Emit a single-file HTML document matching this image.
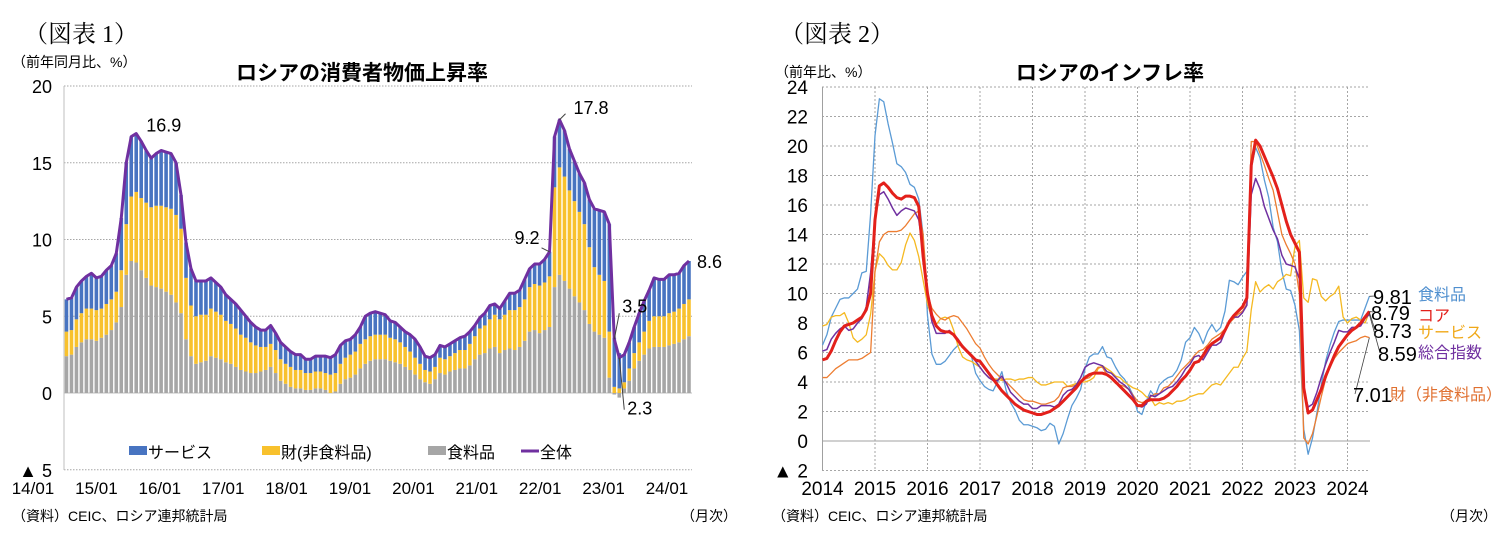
<!DOCTYPE html>
<html><head><meta charset="utf-8"><style>
html,body{margin:0;padding:0;background:#fff;}
svg{display:block;font-family:"Liberation Sans","Noto Sans CJK JP",sans-serif;}
</style></head><body>
<svg id="s" width="1505" height="560" viewBox="0 0 1505 560" xmlns="http://www.w3.org/2000/svg">
<g id="c1">
<text x="24" y="42" font-size="24" font-family="Liberation Serif,'Noto Serif CJK SC',serif">（図表 1）</text>
<text x="12" y="67" font-size="14">（前年同月比、%）</text>
<text x="362" y="80" font-size="21" font-weight="bold" text-anchor="middle">ロシアの消費者物価上昇率</text>
<text x="12" y="521" font-size="14">（資料）CEIC、ロシア連邦統計局</text>
<text x="737" y="521" font-size="14" text-anchor="end">（月次）</text>
</g>
<g id="c2">
<text x="780" y="42" font-size="24" font-family="Liberation Serif,'Noto Serif CJK SC',serif">（図表 2）</text>
<text x="775" y="77" font-size="14">（前年比、%）</text>
<text x="1110" y="80" font-size="21" font-weight="bold" text-anchor="middle">ロシアのインフレ率</text>
<text x="772" y="521" font-size="14">（資料）CEIC、ロシア連邦統計局</text>
<text x="1497" y="521" font-size="14" text-anchor="end">（月次）</text>
</g>
</svg>
<script>
// ---- Chart 1 data (monthly 2014/01-2024/06) ----
const total=[6.1,6.2,6.9,7.3,7.6,7.8,7.5,7.6,8.0,8.3,9.1,11.4,
15.0,16.7,16.9,16.4,15.8,15.3,15.6,15.8,15.7,15.6,15.0,12.9,
9.8,8.1,7.3,7.3,7.3,7.5,7.2,6.9,6.4,6.1,5.8,5.4,
5.0,4.6,4.3,4.1,4.1,4.4,3.9,3.3,3.0,2.7,2.5,2.5,
2.2,2.2,2.4,2.4,2.4,2.3,2.5,3.1,3.4,3.5,3.8,4.3,
5.0,5.2,5.3,5.2,5.1,4.7,4.6,4.3,4.0,3.8,3.5,3.0,
2.4,2.3,2.5,3.1,3.0,3.2,3.4,3.6,3.7,4.0,4.4,4.9,
5.2,5.7,5.8,5.5,6.0,6.5,6.5,6.7,7.4,8.1,8.4,8.4,
8.7,9.2,16.7,17.8,17.1,15.9,15.1,14.3,13.7,12.6,12.0,11.9,
11.8,11.0,3.5,2.3,2.5,3.3,4.3,5.2,6.0,6.7,7.5,7.4,
7.4,7.7,7.7,7.8,8.3,8.6];
const foodC=[2.4,2.5,3.0,3.3,3.5,3.5,3.4,3.6,3.8,4.1,4.6,5.6,
7.7,8.6,8.5,8.0,7.5,7.0,6.9,6.8,6.6,6.4,5.9,5.2,
3.5,2.4,1.9,2.0,2.1,2.4,2.3,2.2,2.0,1.9,1.7,1.5,
1.4,1.3,1.3,1.4,1.5,1.7,1.3,0.8,0.6,0.4,0.3,0.3,
0.2,0.2,0.3,0.3,0.2,0.0,0.1,0.6,0.9,1.0,1.2,1.6,
1.9,2.1,2.2,2.2,2.2,2.1,2.0,1.9,1.7,1.5,1.2,0.9,
0.7,0.6,0.9,1.3,1.2,1.4,1.5,1.6,1.6,1.8,2.2,2.5,
2.6,2.9,3.0,2.6,2.8,2.9,2.8,3.0,3.4,4.0,4.1,3.9,
4.1,4.3,6.9,7.7,7.3,6.8,6.3,5.9,5.4,4.5,4.0,3.8,
3.6,1.0,-0.1,-0.3,0.3,0.8,1.6,2.1,2.5,2.9,3.0,3.0,
3.0,3.1,3.2,3.3,3.5,3.7];
const goodsC=[1.6,1.6,1.8,1.9,2.0,2.0,2.0,1.9,2.0,2.0,2.0,2.4,
3.3,4.2,4.6,4.7,4.9,5.1,5.3,5.4,5.5,5.6,5.7,5.5,
4.0,3.3,3.1,3.1,3.0,3.1,3.0,2.9,2.7,2.6,2.5,2.3,
2.2,2.0,1.8,1.6,1.5,1.5,1.5,1.4,1.3,1.3,1.2,1.2,
1.1,1.1,1.1,1.1,1.1,1.2,1.2,1.3,1.4,1.5,1.5,1.6,
1.6,1.6,1.6,1.6,1.6,1.5,1.5,1.4,1.3,1.2,1.1,1.0,
0.8,0.8,0.8,1.0,1.0,1.0,1.1,1.2,1.2,1.4,1.5,1.7,
1.8,1.9,2.1,2.2,2.3,2.5,2.6,2.6,2.7,2.9,3.0,3.1,
3.1,3.3,6.5,7.0,6.8,6.4,6.2,5.9,5.6,5.0,4.2,3.9,
3.7,3.0,0.4,0.3,0.4,0.8,1.0,1.2,1.5,1.8,2.0,2.0,
2.0,2.1,2.1,2.2,2.3,2.4];
const c1Ticks=[20,15,10,5,0,-5];
const c1TickLabels=["20","15","10","5","0","▲ 5"];
const c1XLabels=["14/01","15/01","16/01","17/01","18/01","19/01","20/01","21/01","22/01","23/01","24/01"];

// ---- Chart 2 data (monthly 2014/01-2024/06) ----
const headline=total.slice(0,125).concat([8.59]);
const core=[5.5,5.6,6.1,6.8,7.4,7.8,7.9,8.0,8.2,8.4,8.9,10.0,
15.0,17.3,17.5,17.2,16.8,16.5,16.4,16.6,16.6,16.5,15.9,12.5,
10.0,8.5,7.8,7.5,7.4,7.4,7.2,6.8,6.4,6.1,5.8,5.5,
5.4,5.0,4.6,4.2,3.8,3.4,3.1,2.8,2.5,2.3,2.1,2.0,
1.9,1.8,1.8,1.9,2.0,2.2,2.4,2.7,3.0,3.3,3.6,4.0,
4.3,4.5,4.6,4.6,4.6,4.5,4.3,4.0,3.7,3.4,3.1,2.8,
2.4,2.4,2.7,2.8,2.8,2.8,2.9,3.1,3.4,3.7,4.1,4.4,
4.8,5.3,5.4,5.8,6.3,6.6,6.8,7.0,7.5,8.1,8.5,8.8,
9.1,9.7,18.7,20.4,20.0,19.3,18.6,17.9,17.1,16.0,14.9,14.0,
13.4,12.8,3.6,1.9,2.1,2.8,3.5,4.4,5.1,5.8,6.4,6.8,
7.2,7.5,7.7,8.0,8.4,8.79];
const food=[6.5,7.2,8.4,9.0,9.6,9.7,9.7,10.0,10.3,11.4,11.5,15.4,
20.7,23.2,23.0,21.5,20.2,18.8,18.6,18.2,17.4,17.2,16.4,14.0,
8.5,5.9,5.2,5.2,5.4,5.8,6.2,6.5,6.5,6.1,5.8,4.6,
4.1,3.7,3.5,3.4,4.0,4.7,3.4,2.6,2.1,1.4,1.1,1.1,
1.0,0.9,0.7,0.8,1.2,1.0,-0.2,0.5,1.5,2.4,2.9,3.5,
4.9,5.7,5.9,5.9,6.4,5.7,5.6,5.0,4.5,4.2,3.7,3.1,
2.0,1.8,2.7,3.4,3.0,3.8,4.1,4.3,4.4,4.8,5.5,6.7,
7.0,7.7,7.3,6.6,7.4,7.9,7.4,7.7,8.8,10.9,10.8,10.6,
11.1,11.5,18.5,19.9,19.2,17.7,16.5,14.5,13.5,11.5,10.3,10.2,
9.2,7.5,0.8,-0.9,0.2,1.9,3.8,5.4,6.5,7.4,8.1,8.2,
8.2,8.2,8.2,8.2,9.0,9.81];
const services=[7.8,7.9,8.4,8.5,8.5,8.7,8.0,7.0,6.7,6.9,7.2,8.6,
11.5,12.7,12.4,11.9,11.6,11.6,12.1,13.3,14.1,13.6,12.5,10.9,
9.3,8.3,7.9,8.3,8.4,8.3,7.5,6.4,5.7,5.5,5.4,5.2,
5.0,4.6,4.3,4.2,4.2,4.1,4.2,4.2,4.1,4.2,4.2,4.3,
4.3,4.0,3.8,3.8,3.9,4.0,4.0,4.0,3.7,3.8,3.9,4.0,
4.0,4.1,4.3,4.9,5.1,4.9,4.7,4.4,4.3,4.0,3.8,3.6,
3.5,3.3,3.0,2.9,2.4,2.6,2.5,2.6,2.5,2.7,2.7,2.8,
3.0,3.1,3.2,3.2,3.5,3.8,3.9,3.8,4.2,4.6,5.0,5.0,
5.6,6.1,8.9,10.8,10.1,10.4,10.6,10.3,10.8,11.0,11.3,11.2,
13.2,13.6,9.7,9.4,11.0,10.9,9.8,9.5,9.8,10.0,10.5,8.4,
8.0,8.3,8.4,8.2,8.0,8.73];
const goods=[4.3,4.3,4.6,4.9,5.1,5.3,5.5,5.5,5.5,5.6,5.8,6.0,
11.5,13.5,14.0,14.2,14.2,14.2,14.3,14.6,15.0,15.4,15.6,14.0,
10.0,9.0,8.6,8.3,8.2,8.4,8.5,8.4,8.0,7.6,7.1,6.6,
6.3,5.7,5.2,4.8,4.5,4.2,4.0,3.7,3.4,3.1,2.8,2.7,
2.7,2.6,2.5,2.5,2.6,2.7,3.0,3.6,3.7,3.7,3.8,4.0,
4.2,4.3,4.6,5.0,5.0,4.5,4.2,3.9,3.8,3.7,3.5,3.1,
2.7,2.6,2.7,3.0,3.2,3.2,3.6,3.7,4.0,4.4,4.8,5.1,
5.4,5.8,6.1,6.2,6.5,6.9,7.1,7.3,7.6,8.0,8.3,8.6,
8.8,9.3,20.3,20.3,19.5,18.7,17.8,17.0,15.5,14.0,13.3,12.7,
12.0,10.0,0.2,-0.2,0.5,1.7,3.0,4.2,5.0,5.6,6.0,6.3,
6.6,6.7,6.8,7.0,7.1,7.01];
const c2Ticks=[24,22,20,18,16,14,12,10,8,6,4,2,0,-2];
const c2TickLabels=["24","22","20","18","16","14","12","10","8","6","4","2","0","▲ 2"];
const c2Years=["2014","2015","2016","2017","2018","2019","2020","2021","2022","2023","2024"];

const NS="http://www.w3.org/2000/svg";
function mk(parent,tag,attrs){const e=document.createElementNS(NS,tag);for(const k in attrs)e.setAttribute(k,attrs[k]);parent.appendChild(e);return e;}
function txt(parent,x,y,s,size,anchor,fill){const t=mk(parent,'text',{x:x,y:y,'font-size':size,'text-anchor':anchor||'start',fill:fill||'#000'});t.textContent=s;return t;}

// ---------- Chart 1 ----------
const c1=document.getElementById('c1');
const X0=64,STEP=4.98;
const y1=v=>393-v*15.35;
const x1=i=>X0+(i+0.5)*STEP;
c1Ticks.forEach((v,k)=>{
 const l=mk(c1,'line',{x1:64,x2:692,y1:y1(v),y2:y1(v),stroke:v===0?'#bfbfbf':'#a6a6a6','stroke-width':1,'stroke-dasharray':v===0?'none':'1.5,1.5'});
 
 
 const t=txt(c1,52,y1(v)+7,c1TickLabels[k],18,'end');
 
 
});
const ax1=mk(c1,'line',{x1:64,x2:64,y1:86,y2:470,stroke:'#bfbfbf','stroke-width':1});


for(let i=0;i<total.length;i++){
 const f=foodC[i],g=goodsC[i],s=total[i]-foodC[i]-goodsC[i];
 const w=STEP*0.72,x=x1(i)-w/2;
 let base=0;
 const segs=[[f,'#a6a6a6','bar-food'],[g,'#f8c12d','bar-goods'],[s,'#4874c1','bar-services']];
 segs.forEach(([v,c,n])=>{
  let top,bot;
  if(v<0&&n==='bar-food'){top=0;bot=v;}else{bot=base;top=base+v;base=top;}
  const r=mk(c1,'rect',{x:x,y:y1(Math.max(top,bot)),width:w,height:Math.abs(y1(top)-y1(bot)),fill:c});
  
  
 });
}
const pl1=mk(c1,'polyline',{points:total.map((v,i)=>x1(i)+','+y1(v)).join(' '),fill:'none',stroke:'#7030a0','stroke-width':3,'stroke-linejoin':'round'});


c1XLabels.forEach((s,k)=>{
 const t=txt(c1,33+63.4*k,494,s,17,'middle');
 
 
});
function note(i,label,dx,dy,lead){
 const v=total[i];
 const t=txt(c1,x1(i)+dx,y1(v)+dy,label,18,lead==='left'?'end':'start');
 
 
}
note(14,total[14].toFixed(1),10,-2);
note(99,total[99].toFixed(1),14,-6);
note(97,total[97].toFixed(1),-10,-8,'left');
note(110,total[110].toFixed(1),8,-27);
note(111,total[111].toFixed(1),8,57);
note(125,total[125].toFixed(1),8,7);
[[99,6,-6],[97,-8,-4],[110,5,-26],[111,5,52]].forEach(([i,dx,dy])=>{
 const l=mk(c1,'line',{x1:x1(i),y1:y1(total[i]),x2:x1(i)+dx,y2:y1(total[i])+dy,stroke:'#404040','stroke-width':1});
 
 
});
const leg1=[['サービス','#4874c1',129,'rect'],['財(非食料品)','#f8c12d',262,'rect'],['食料品','#a6a6a6',428,'rect'],['全体','#7030a0',521,'line']];
leg1.forEach(([s,c,x,k])=>{
 const g=mk(c1,'g',{});
 
 
 if(k==='rect')mk(g,'rect',{x:x,y:446,width:18,height:9,fill:c});
 else mk(g,'line',{x1:x,x2:x+18,y1:451,y2:451,stroke:c,'stroke-width':3});
 txt(g,x+19,458,s,16,'start');
});

// ---------- Chart 2 ----------
const c2=document.getElementById('c2');
const y2=v=>441-v*14.75;
const x2=i=>822.5+i*4.375;
c2Ticks.forEach((v,k)=>{
 const l=mk(c2,'line',{x1:822,x2:1370,y1:y2(v),y2:y2(v),stroke:v===0?'#a0a0a0':'#a6a6a6','stroke-width':1,'stroke-dasharray':v===0?'none':'2,2'});
 
 
 const t=txt(c2,808,y2(v)+7,c2TickLabels[k],19,'end');
 
 
});
c2Years.forEach((s,k)=>{
 const x=x2(12*k);
 const l=mk(c2,'line',{x1:x,x2:x,y1:87,y2:470,stroke:k===0?'#a0a0a0':'#a6a6a6','stroke-width':1,'stroke-dasharray':k===0?'none':'2,2'});
 
 
 const t=txt(c2,x,495,s,19,'middle');
 
 
});
const series2=[[food,'#5b9bd5',1.3,'line-food'],[services,'#f5b921',1.3,'line-services'],[goods,'#ed7d31',1.3,'line-goods'],[headline,'#7030a0',1.5,'line-headline'],[core,'#e3201b',3,'line-core']];
series2.forEach(([d,c,w,n])=>{
 const p=mk(c2,'polyline',{points:d.map((v,i)=>x2(i)+','+y2(v)).join(' '),fill:'none',stroke:c,'stroke-width':w,'stroke-linejoin':'round'});
 
 
});
const last=125;
const endLabels=[[food,'食料品','#4f8fcf',304,1373,1418,300],[core,'コア','#e3201b',320,1371,1418,321],[services,'サービス','#f0a818',338,1373,1418,338],[headline,'総合指数','#7030a0',361,1378,1418,358],[goods,'財（非食料品）','#e07030',402,1353,1390,400]];
endLabels.forEach(([d,name,c,ly,lx,nx,ny])=>{
 const g=mk(c2,'g',{});
 
 
 mk(g,'line',{x1:x2(last),y1:y2(d[last]),x2:lx+2,y2:ly-8,stroke:'#404040','stroke-width':0.8});
 txt(g,lx,ly,d[last].toFixed(2),20,'start');
 txt(g,nx,ny,name,16,'start',c);
});
</script>
</body></html>
